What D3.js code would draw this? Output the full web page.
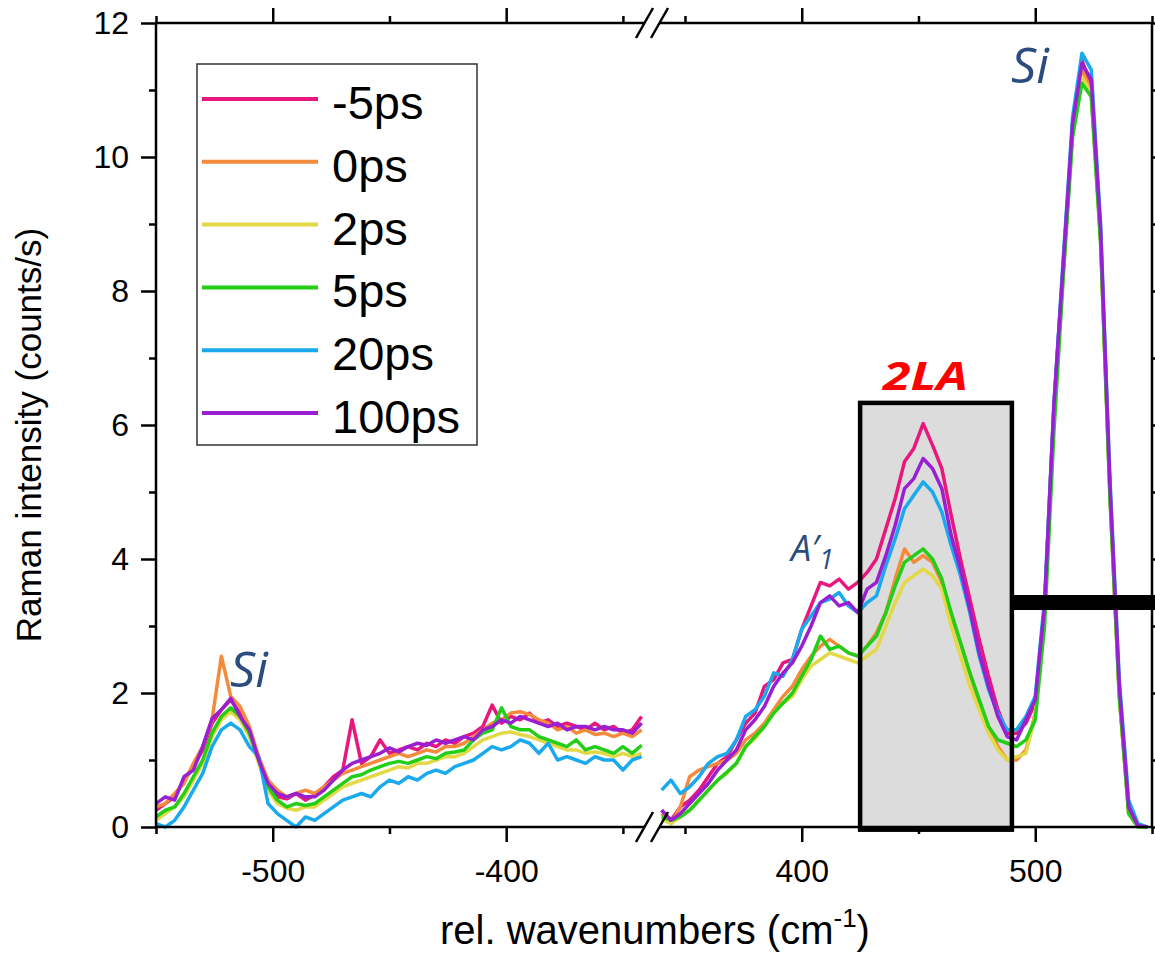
<!DOCTYPE html>
<html><head><meta charset="utf-8">
<script src="https://cdn.jsdelivr.net/npm/d3@7"></script>
<style>body{margin:0;background:#fff} svg{display:block}</style>
</head><body><svg id="c" width="1155" height="957"></svg>
<script>
// ---------- data ----------
const seriesNames  = ["-5ps", "0ps", "2ps", "5ps", "20ps", "100ps"];
const seriesColors = ["#e8177d", "#f58a3c", "#e3d845", "#22cf16", "#19a9ef", "#9a1ed2"];

const leftWavenumbers = [-550,-546,-542,-538,-534,-530,-526,-522,-518,-514,-510,-506,-502,-498,-494,-490,-486,-482,-478,-474,-470,-466,-462,-458,-454,-450,-446,-442,-438,-434,-430,-426,-422,-418,-414,-410,-406,-402,-398,-394,-390,-386,-382,-378,-374,-370,-366,-362,-358,-354,-350,-346,-342];
const rightWavenumbers = [340,344,348,352,356,360,364,368,372,376,380,384,388,392,396,400,404,408,412,416,420,424,428,432,436,440,444,448,452,456,460,464,468,472,476,480,484,488,492,496,500,504,508,512,516,520,524,528,532,536,540,544,548];

const leftM5   = [0.25,0.35,0.45,0.7,0.9,1.15,1.55,1.75,1.9,1.7,1.4,1.0,0.6,0.45,0.42,0.5,0.4,0.48,0.6,0.75,0.85,1.6,0.95,1.05,1.3,1.1,1.15,1.2,1.15,1.25,1.2,1.3,1.25,1.35,1.4,1.5,1.82,1.55,1.65,1.6,1.7,1.55,1.6,1.5,1.55,1.5,1.45,1.55,1.45,1.5,1.4,1.45,1.65];
const left0    = [0.3,0.35,0.5,0.65,0.95,1.2,1.6,2.55,1.95,1.8,1.5,1.05,0.7,0.55,0.45,0.5,0.55,0.5,0.6,0.7,0.8,0.85,0.9,0.95,1.0,1.05,1.1,1.05,1.1,1.15,1.12,1.2,1.2,1.25,1.35,1.45,1.55,1.6,1.7,1.72,1.68,1.6,1.55,1.45,1.5,1.4,1.45,1.38,1.4,1.35,1.4,1.35,1.45];
const left2    = [0.1,0.2,0.3,0.45,0.7,0.95,1.35,1.6,1.72,1.6,1.35,0.95,0.55,0.35,0.28,0.25,0.3,0.3,0.4,0.5,0.6,0.65,0.7,0.75,0.8,0.85,0.9,0.88,0.95,0.95,1.0,1.05,1.05,1.1,1.2,1.3,1.35,1.4,1.42,1.38,1.35,1.3,1.25,1.2,1.15,1.15,1.1,1.12,1.1,1.05,1.1,1.05,1.1];
const left5    = [0.15,0.25,0.3,0.5,0.75,1.0,1.4,1.65,1.78,1.65,1.4,1.0,0.6,0.4,0.3,0.35,0.32,0.35,0.45,0.55,0.65,0.75,0.78,0.85,0.9,0.95,0.98,0.95,1.0,1.05,1.02,1.1,1.12,1.15,1.3,1.4,1.45,1.78,1.5,1.45,1.45,1.35,1.3,1.25,1.2,1.3,1.15,1.2,1.15,1.1,1.2,1.1,1.22];
const left20   = [0.05,0.0,0.1,0.3,0.55,0.8,1.2,1.45,1.55,1.45,1.2,1.05,0.35,0.2,0.1,0.0,0.15,0.1,0.2,0.3,0.4,0.45,0.5,0.45,0.6,0.7,0.65,0.75,0.7,0.8,0.85,0.8,0.9,0.95,1.0,1.1,1.2,1.15,1.2,1.3,1.25,1.1,1.25,1.0,1.05,1.0,0.95,1.05,1.0,1.0,0.85,1.0,1.05];
const left100  = [0.35,0.45,0.4,0.75,0.85,1.2,1.62,1.75,1.92,1.65,1.45,1.0,0.65,0.5,0.45,0.5,0.45,0.45,0.55,0.7,0.85,0.95,1.0,1.05,1.1,1.18,1.12,1.2,1.25,1.22,1.3,1.25,1.3,1.35,1.3,1.45,1.5,1.6,1.55,1.65,1.6,1.55,1.5,1.55,1.45,1.5,1.5,1.45,1.5,1.45,1.45,1.4,1.55];

const rightM5  = [0.25,0.1,0.3,0.4,0.55,0.75,0.95,1.05,1.3,1.55,1.7,2.1,2.2,2.45,2.5,2.95,3.3,3.65,3.6,3.7,3.55,3.65,3.8,4.0,4.45,4.9,5.45,5.65,6.02,5.7,5.35,4.65,4.0,3.4,2.8,2.25,1.75,1.4,1.4,1.55,1.85,3.3,6.3,8.4,10.5,11.45,11.0,8.8,5.0,2.0,0.25,0.02,0.0];
const right0   = [0.2,0.05,0.3,0.75,0.85,0.9,0.95,1.0,1.1,1.3,1.4,1.55,1.75,1.95,2.1,2.35,2.55,2.7,2.8,2.7,2.6,2.55,2.7,2.9,3.2,3.7,4.15,3.95,4.05,3.95,3.65,3.15,2.75,2.3,1.85,1.5,1.2,1.0,1.0,1.15,1.7,3.3,6.2,8.3,10.4,11.3,11.0,8.75,4.95,1.95,0.2,0.0,0.0];
const right2   = [0.12,0.05,0.15,0.25,0.4,0.55,0.7,0.8,0.95,1.2,1.32,1.5,1.7,1.85,1.95,2.2,2.4,2.5,2.6,2.55,2.5,2.45,2.55,2.65,3.0,3.35,3.65,3.75,3.85,3.75,3.55,3.0,2.55,2.1,1.75,1.4,1.15,1.0,1.05,1.1,1.65,3.3,6.2,8.3,10.4,11.2,10.95,8.75,4.95,1.95,0.2,0.0,0.0];
const right5   = [0.15,0.1,0.15,0.25,0.4,0.55,0.7,0.82,0.95,1.2,1.35,1.5,1.7,1.85,2.0,2.25,2.5,2.85,2.65,2.7,2.6,2.55,2.7,2.85,3.2,3.6,3.95,4.05,4.15,4.0,3.7,3.2,2.75,2.3,1.9,1.5,1.3,1.25,1.2,1.3,1.6,3.0,5.9,8.2,10.3,11.1,10.9,8.7,4.9,1.95,0.2,0.0,0.0];
const right20  = [0.55,0.7,0.5,0.6,0.75,0.95,1.05,1.1,1.3,1.65,1.75,1.95,2.3,2.25,2.5,2.95,3.15,3.35,3.4,3.5,3.3,3.2,3.35,3.45,3.9,4.3,4.75,4.95,5.15,5.0,4.7,4.2,3.75,3.2,2.55,2.05,1.7,1.45,1.45,1.65,1.95,3.4,6.3,8.5,10.6,11.55,11.3,9.0,5.2,2.2,0.4,0.05,0.0];
const right100 = [0.25,0.1,0.2,0.35,0.5,0.65,0.85,1.0,1.15,1.45,1.6,1.8,2.1,2.3,2.45,2.7,3.0,3.35,3.45,3.3,3.35,3.2,3.55,3.65,4.05,4.5,5.05,5.2,5.5,5.35,5.05,4.35,3.85,3.25,2.6,2.1,1.65,1.35,1.3,1.6,1.9,3.3,6.3,8.4,10.5,11.4,11.15,8.9,5.1,2.1,0.3,0.02,0.0];

const leftSeries  = [leftM5, left0, left2, left5, left20, left100];
const rightSeries = [rightM5, right0, right2, right5, right20, right100];

const yMajorTicks = [0, 2, 4, 6, 8, 10, 12];
const yMinorTicks = [1, 3, 5, 7, 9, 11];
const leftMajorTicks = [-500, -400];
const leftMinorTicks = [-550, -450, -350];
const rightMajorTicks = [400, 500];
const rightMinorTicks = [350, 450, 550];

const highlightX = [425, 490];   // 2LA box, wavenumbers
const highlightY = [-0.04, 6.33];
const markerLevel = 3.35;        // black bar level

// ---------- layout ----------
const W = 1155, H = 957;
const svg = d3.select("#c");
const y  = d3.scaleLinear().domain([0, 12]).range([827, 23]);
const xL = d3.scaleLinear().domain([-550, -341.4]).range([156, 643]);
const xR = d3.scaleLinear().domain([339.3, 550]).range([660, 1152]);
const plotL = 156, plotR = 1152, plotT = 23, plotB = 827;
const FONT = "'Liberation Sans', Arial, sans-serif";
const AFONT = "'Open Sans', 'Noto Sans', sans-serif";

// highlight box fill
svg.append("rect")
  .attr("x", xR(highlightX[0])).attr("y", y(highlightY[1]))
  .attr("width", xR(highlightX[1]) - xR(highlightX[0]))
  .attr("height", y(highlightY[0]) - y(highlightY[1]))
  .attr("fill", "#dcdcdc");

// curves
const gC = svg.append("g").attr("fill", "none").attr("stroke-width", 3.5).attr("stroke-linejoin", "round");
seriesNames.forEach((n, i) => {
  const lineL = d3.line().x((d, j) => xL(leftWavenumbers[j])).y(d => y(d));
  const lineR = d3.line().x((d, j) => xR(rightWavenumbers[j])).y(d => y(d));
  gC.append("path").attr("d", lineL(leftSeries[i])).attr("stroke", seriesColors[i]);
  gC.append("path").attr("d", lineR(rightSeries[i])).attr("stroke", seriesColors[i]);
});

// highlight box stroke
svg.append("rect")
  .attr("x", xR(highlightX[0])).attr("y", y(highlightY[1]))
  .attr("width", xR(highlightX[1]) - xR(highlightX[0]))
  .attr("height", y(highlightY[0]) - y(highlightY[1]))
  .attr("fill", "none").attr("stroke", "#000").attr("stroke-width", 4.5);

// black bar
svg.append("line")
  .attr("x1", xR(highlightX[1]) + 2).attr("x2", W + 5)
  .attr("y1", y(markerLevel)).attr("y2", y(markerLevel))
  .attr("stroke", "#000").attr("stroke-width", 15);

// ---------- axes ----------
const AX = 2.5;
function hAxis(scale, ticksMaj, ticksMin, yPos, dir, labels) {
  const mk = dir === "bottom" ? d3.axisBottom : d3.axisTop;
  const g1 = svg.append("g").attr("transform", `translate(0,${yPos})`)
    .call(mk(scale).tickValues(ticksMaj).tickSize(15).tickSizeOuter(0).tickPadding(17)
      .tickFormat(labels ? (d => String(d)) : () => ""));
  const g2 = svg.append("g").attr("transform", `translate(0,${yPos})`)
    .call(mk(scale).tickValues(ticksMin).tickSize(7).tickSizeOuter(0).tickFormat(() => ""));
  [g1, g2].forEach(g => {
    g.select(".domain").remove();
    g.selectAll(".tick line").attr("stroke", "#000").attr("stroke-width", AX);
    g.selectAll("text").attr("font-family", FONT).attr("font-size", 32).attr("fill", "#000");
  });
}
hAxis(xL, leftMajorTicks, leftMinorTicks, plotB, "bottom", true);
hAxis(xR, rightMajorTicks, rightMinorTicks, plotB, "bottom", true);
hAxis(xL, leftMajorTicks, leftMinorTicks, plotT, "top", false);
hAxis(xR, rightMajorTicks, rightMinorTicks, plotT, "top", false);

function vAxis(xPos, dir, labels) {
  const mk = dir === "left" ? d3.axisLeft : d3.axisRight;
  const g1 = svg.append("g").attr("transform", `translate(${xPos},0)`)
    .call(mk(y).tickValues(yMajorTicks).tickSize(15).tickSizeOuter(0).tickPadding(12)
      .tickFormat(labels ? d3.format("d") : () => ""));
  const g2 = svg.append("g").attr("transform", `translate(${xPos},0)`)
    .call(mk(y).tickValues(yMinorTicks).tickSize(7).tickSizeOuter(0).tickFormat(() => ""));
  [g1, g2].forEach(g => {
    g.select(".domain").remove();
    g.selectAll(".tick line").attr("stroke", "#000").attr("stroke-width", AX);
    g.selectAll("text").attr("font-family", FONT).attr("font-size", 32).attr("fill", "#000");
  });
}
vAxis(plotL, "left", true);
vAxis(plotR, "right", false);

// axis lines
const gA = svg.append("g").attr("stroke", "#000").attr("stroke-width", AX).attr("fill", "none");
[plotT, plotB].forEach(yy => {
  gA.append("line").attr("x1", plotL).attr("x2", xL.range()[1] + 1).attr("y1", yy).attr("y2", yy);
  gA.append("line").attr("x1", xR.range()[0] - 1).attr("x2", plotR).attr("y1", yy).attr("y2", yy);
  // break slashes
  [636, 651].forEach(sx => {
    gA.append("line").attr("x1", sx).attr("y1", yy + 15).attr("x2", sx + 17).attr("y2", yy - 15);
  });
});
gA.append("line").attr("x1", plotL).attr("x2", plotL).attr("y1", plotT - 1).attr("y2", plotB + 1);
gA.append("line").attr("x1", plotR).attr("x2", plotR).attr("y1", plotT - 1).attr("y2", plotB + 1);

// axis titles
svg.append("text")
  .attr("transform", "translate(41,435) rotate(-90)")
  .attr("text-anchor", "middle").attr("font-family", FONT).attr("font-size", 35)
  .text("Raman intensity (counts/s)");
const xt = svg.append("text").attr("x", 655).attr("y", 944)
  .attr("text-anchor", "middle").attr("font-family", FONT).attr("font-size", 40);
xt.append("tspan").text("rel. wavenumbers (cm");
xt.append("tspan").attr("font-size", 26).attr("dy", -17).text("-1");
xt.append("tspan").attr("dy", 17).text(")");

// ---------- annotations ----------
const annoColor = "#2b4c7e";
svg.append("text").attr("x", 230).attr("y", 687).attr("font-family", AFONT).attr("font-style", "italic")
  .attr("font-size", 50).attr("fill", annoColor).text("Si");
svg.append("text").attr("x", 1011).attr("y", 83).attr("font-family", AFONT).attr("font-style", "italic")
  .attr("font-size", 50).attr("fill", annoColor).text("Si");
const a1 = svg.append("text").attr("x", 791).attr("y", 561).attr("font-family", AFONT).attr("font-style", "italic")
  .attr("font-size", 36).attr("fill", annoColor);
a1.append("tspan").text("A′");
a1.append("tspan").attr("font-size", 27).attr("dy", 8).text("1");
svg.append("text").attr("x", 883).attr("y", 390).attr("font-family", AFONT).attr("font-style", "italic")
  .attr("font-weight", "bold").attr("font-size", 39).attr("fill", "#ff0000")
  .attr("textLength", 85).attr("lengthAdjust", "spacingAndGlyphs").text("2LA");

// ---------- legend ----------
const lg = svg.append("g");
lg.append("rect").attr("x", 197).attr("y", 64).attr("width", 280).attr("height", 381)
  .attr("fill", "#fff").attr("stroke", "#333").attr("stroke-width", 1.5);
seriesNames.forEach((n, i) => {
  const ly = 99 + i * 62.8;
  lg.append("line").attr("x1", 202).attr("x2", 318).attr("y1", ly).attr("y2", ly)
    .attr("stroke", seriesColors[i]).attr("stroke-width", 4);
  lg.append("text").attr("x", 332).attr("y", ly + 20).attr("font-family", FONT)
    .attr("font-size", 47).attr("fill", "#000").text(n);
});
</script>
</body></html>
